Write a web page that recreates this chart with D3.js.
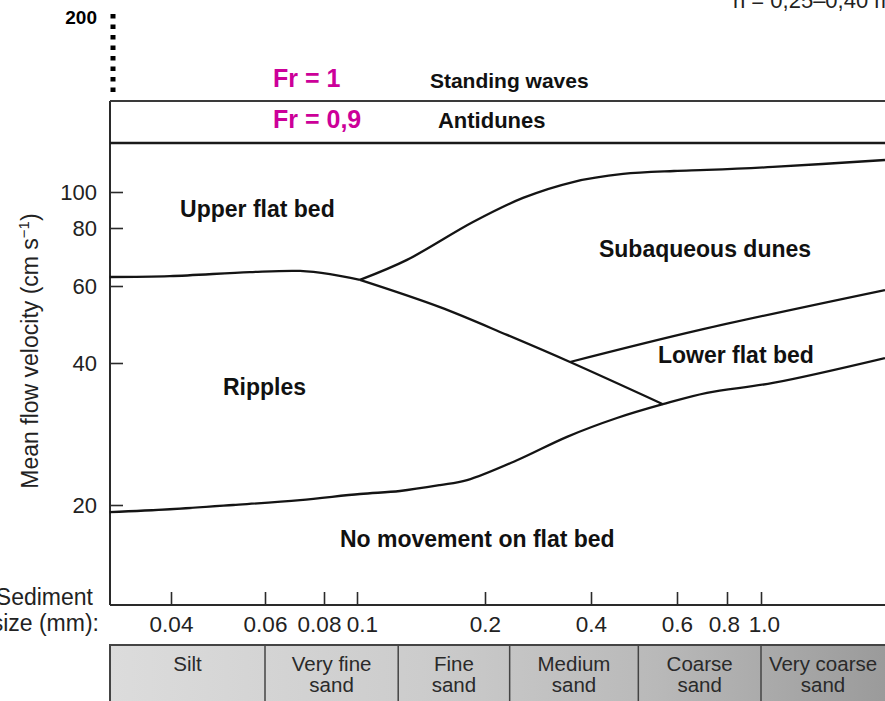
<!DOCTYPE html>
<html>
<head>
<meta charset="utf-8">
<script src="https://cdn.jsdelivr.net/npm/d3@7"></script>
<style>
  html, body { margin: 0; padding: 0; background: #fff; }
  svg { display: block; font-family: "Liberation Sans", Arial, Helvetica, sans-serif; }
</style>
</head>
<body>
<svg id="chart" width="885" height="701"></svg>
<script>
// axis ticks: sediment size (mm) and mean flow velocity (cm/s)
const sizeTicks = [0.04, 0.06, 0.08, 0.1, 0.2, 0.4, 0.6, 0.8, 1.0];
const sizeTickLabels = ["0.04", "0.06", "0.08", "0.1", "0.2", "0.4", "0.6", "0.8", "1.0"];
const velocityTicks = [20, 40, 60, 80, 100];
const velocityBreak = 200;

// bedform boundaries, each point is [size mm, velocity cm/s]
const noMovementEdge = [[0.0307, 19.0], [0.0398, 19.4], [0.0523, 20.0], [0.0712, 20.7], [0.1016, 21.55],
  [0.1262, 21.97], [0.1567, 22.8], [0.1815, 23.5], [0.2465, 26.3], [0.3419, 29.6], [0.452, 32.25],
  [0.5615, 34.2], [0.7128, 35.8], [1.082, 37.2], [2.256, 41.3]];
const upperFlatRippleEdge = [[0.0307, 63.1], [0.0398, 63.4], [0.0562, 64.8], [0.0712, 65.2], [0.0833, 64.1], [0.1016, 62.1]];
const upperFlatDuneEdge = [[0.1016, 62.1], [0.1311, 69.0], [0.1874, 83.3], [0.2564, 96.7], [0.3556, 105.7],
  [0.4652, 110.3], [0.5915, 112.0], [0.7128, 112.6], [1.082, 114.3], [2.256, 118.3]];
const rippleDuneEdge = [[0.1016, 62.1], [0.1567, 54.5], [0.231, 47.3], [0.3487, 40.26], [0.5615, 34.2]];
const duneLowerFlatEdge = [[0.3487, 40.26], [0.6847, 48.6], [2.256, 58.96]];

// Froude number limits (drawn flat, velocity where they sit)
const froudeLabels = ["Fr = 1", "Fr = 0,9"];
const froudeVelocity = [152, 128];
const froudeLabelVelocity = [160, 136.6];

// regime names and where they are written [size, velocity]
const regionNames = ["Upper flat bed", "Subaqueous dunes", "Lower flat bed", "Ripples", "No movement on flat bed", "Antidunes", "Standing waves"];
const regionAnchors = [[0.0416, 86.1], [0.4153, 70.0], [0.5485, 40.0], [0.05006, 35.5], [0.0891, 14.1], [0.155, 136.6], [0.1484, 159.4]];

// grain size classes and their limits (mm) as drawn
const grainClasses = [["Silt"], ["Very fine", "sand"], ["Fine", "sand"], ["Medium", "sand"], ["Coarse", "sand"], ["Very coarse", "sand"]];
const grainBounds = [0.06, 0.125, 0.235, 0.5, 1.0];

const depthNote = "h = 0,25\u20130,40 m";

const svg = d3.select("#chart");
const left = 110, right = 890, bottom = 605, tableTop = 645, edge = 885;
const font = "\"Liberation Sans\", Arial, sans-serif";

// hand drawn axes are uneven, so scales are piecewise
const xLog = d3.scaleLinear()
  .domain(sizeTicks.map(Math.log10))
  .range([171, 265, 324, 357, 485, 591, 677, 727, 761]);
const x = v => xLog(Math.log10(v));
const y = d3.scaleLinear()
  .domain([20, 40, 60, 80, 100, 200])
  .range([505, 363, 286, 228, 192, 17]);

// table background gradient
const grad = svg.append("defs").append("linearGradient").attr("id", "grain")
  .attr("x1", "0%").attr("x2", "100%");
grad.append("stop").attr("offset", "0%").attr("stop-color", "#dcdcdc");
grad.append("stop").attr("offset", "40%").attr("stop-color", "#cccccc");
grad.append("stop").attr("offset", "70%").attr("stop-color", "#b9b9b9");
grad.append("stop").attr("offset", "100%").attr("stop-color", "#9a9a9a");

// frame
const topY = y(froudeVelocity[0]);
svg.append("line").attr("x1", left).attr("x2", left).attr("y1", topY).attr("y2", bottom)
  .attr("stroke", "#2a2a2a").attr("stroke-width", 2);
svg.append("line").attr("x1", left).attr("x2", right).attr("y1", bottom).attr("y2", bottom)
  .attr("stroke", "#2a2a2a").attr("stroke-width", 2);
svg.selectAll(".fr").data(froudeVelocity).enter().append("line")
  .attr("x1", left).attr("x2", right)
  .attr("y1", d => y(d)).attr("y2", d => y(d))
  .attr("stroke", (d, i) => i === 0 ? "#3a3a3a" : "#1a1a1a")
  .attr("stroke-width", (d, i) => i === 0 ? 2 : 2.5);

// axis break up to 200
svg.append("line").attr("x1", left + 3).attr("x2", left + 3)
  .attr("y1", y(velocityBreak) - 3).attr("y2", topY - 4)
  .attr("stroke", "#000").attr("stroke-width", 5).attr("stroke-dasharray", "4.5,6");
svg.append("text").attr("x", left - 13).attr("y", y(velocityBreak)).attr("dy", "0.35em")
  .attr("text-anchor", "end").attr("font-weight", "bold").attr("font-size", 19)
  .attr("fill", "#000").text(velocityBreak);

// y axis
const yAxis = svg.append("g").attr("transform", `translate(${left},0)`)
  .call(d3.axisLeft(y).tickValues(velocityTicks).tickSize(-13).tickPadding(13));
yAxis.select(".domain").remove();
yAxis.selectAll("line").attr("stroke", "#2a2a2a").attr("stroke-width", 1.6);
yAxis.selectAll("text").attr("font-size", 22).attr("fill", "#222").attr("font-family", font);

const yTitle = svg.append("text")
  .attr("transform", "translate(38,351) rotate(-90)")
  .attr("text-anchor", "middle").attr("font-size", 23).attr("fill", "#222");
yTitle.append("tspan").text("Mean flow velocity (cm s");
yTitle.append("tspan").attr("dy", -9).attr("font-size", 15).text("\u22121");
yTitle.append("tspan").attr("dy", 9).text(")");

// x axis, a few labels nudged apart as in the print
const labelNudge = [0, 0, -5, 5, 0, 0, 0, -3, 3];
const xAxis = svg.append("g").attr("transform", `translate(0,${bottom})`)
  .call(d3.axisBottom(xLog).tickValues(sizeTicks.map(Math.log10))
    .tickFormat((d, i) => sizeTickLabels[i]).tickSize(-13).tickPadding(11));
xAxis.select(".domain").remove();
xAxis.selectAll("line").attr("stroke", "#2a2a2a").attr("stroke-width", 1.6);
xAxis.selectAll("text").attr("font-size", 22.5).attr("fill", "#222").attr("font-family", font)
  .attr("dx", (d, i) => labelNudge[i]);

svg.append("text").attr("x", 93).attr("y", bottom).attr("text-anchor", "end")
  .attr("font-size", 23).attr("fill", "#222").text("Sediment");
svg.append("text").attr("x", 99).attr("y", bottom + 26).attr("text-anchor", "end")
  .attr("font-size", 23).attr("fill", "#222").text("size (mm):");

// bedform boundaries
const line = d3.line().x(d => x(d[0])).y(d => y(d[1])).curve(d3.curveCatmullRom.alpha(0.5));
svg.selectAll(".edge")
  .data([noMovementEdge, upperFlatRippleEdge, upperFlatDuneEdge, rippleDuneEdge, duneLowerFlatEdge])
  .enter().append("path")
  .attr("d", line).attr("fill", "none")
  .attr("stroke", "#141414").attr("stroke-width", 2.3).attr("stroke-linejoin", "round");

// labels
svg.selectAll(".region").data(regionNames).enter().append("text")
  .attr("x", (d, i) => x(regionAnchors[i][0]))
  .attr("y", (d, i) => y(regionAnchors[i][1]))
  .attr("font-weight", "bold")
  .attr("font-size", d => d === "Standing waves" ? 21 : d === "Antidunes" ? 22 : 23)
  .attr("fill", "#111").text(d => d);

svg.selectAll(".frlab").data(froudeLabels).enter().append("text")
  .attr("x", x(0.0624))
  .attr("y", (d, i) => y(froudeLabelVelocity[i]))
  .attr("font-weight", "bold").attr("font-size", 25)
  .attr("fill", "#cc0099").text(d => d);

svg.append("text").attr("x", 733).attr("y", 8).attr("font-size", 22)
  .attr("fill", "#222").text(depthNote);

// grain size table
const cellEdges = [left].concat(grainBounds.map(x)).concat([edge]);
svg.append("rect").attr("x", left).attr("y", tableTop)
  .attr("width", right - left).attr("height", 70)
  .attr("fill", "url(#grain)").attr("stroke", "#444").attr("stroke-width", 2);
svg.selectAll(".div").data(grainBounds).enter().append("line")
  .attr("x1", d => x(d)).attr("x2", d => x(d))
  .attr("y1", tableTop).attr("y2", tableTop + 70)
  .attr("stroke", "#444").attr("stroke-width", 1.5);
const cells = svg.selectAll(".cell").data(grainClasses).enter().append("text")
  .attr("text-anchor", "middle").attr("font-size", 20.5).attr("fill", "#2a2a2a");
cells.each(function (d, i) {
  const cx = (cellEdges[i] + cellEdges[i + 1]) / 2;
  d.forEach((t, j) => {
    d3.select(this).append("tspan").attr("x", cx).attr("y", tableTop + 26 + j * 21).text(t);
  });
});
</script>
</body>
</html>
